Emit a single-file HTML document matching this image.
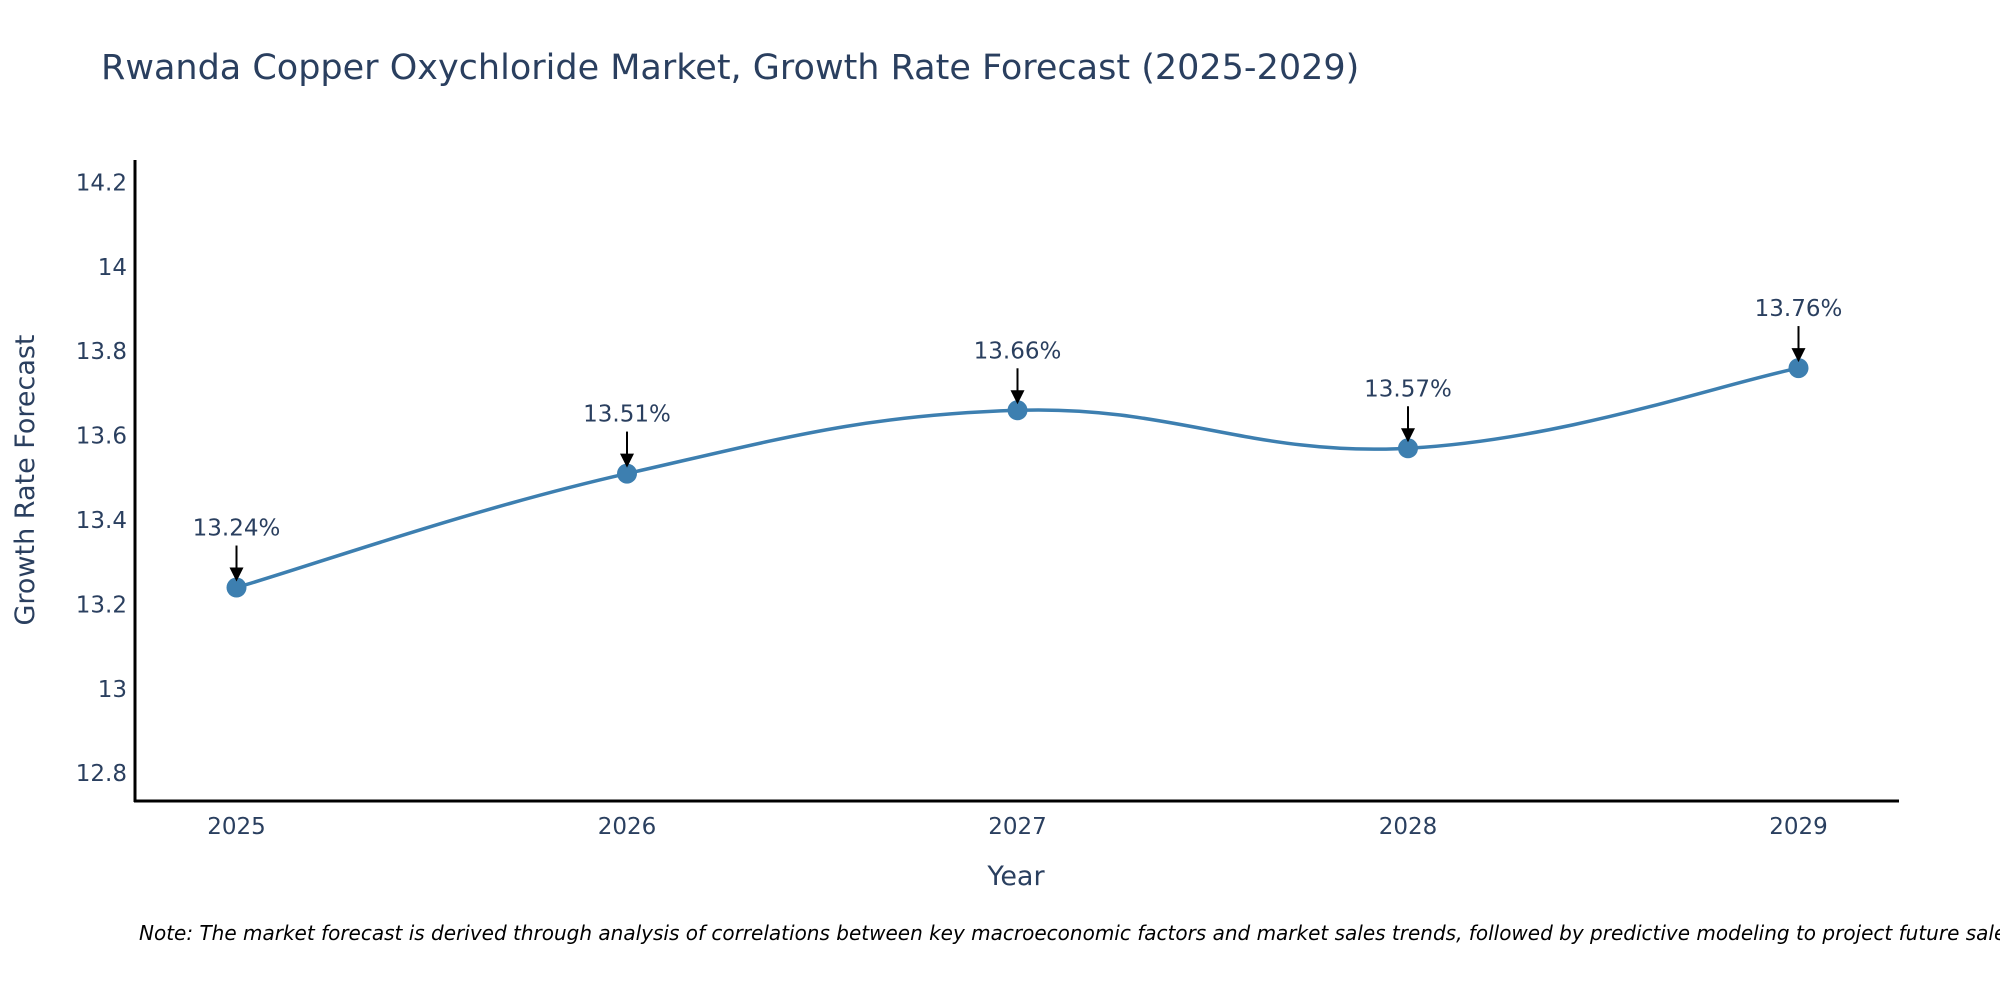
<!DOCTYPE html>
<html><head><meta charset="utf-8"><style>
body{margin:0;background:#fff;overflow:hidden;}
svg{font-family:"DejaVu Sans","Liberation Sans",sans-serif;}
</style></head><body>
<svg id="chart" width="2000" height="1000">
<text x="101" y="79" font-size="35" fill="#2a3f5f">Rwanda Copper Oxychloride Market, Growth Rate Forecast (2025-2029)</text>
<g id="yticks"></g>
<g id="xticks"></g>
<line x1="135" y1="160" x2="135" y2="802" stroke="#000" stroke-width="3"/>
<line x1="134" y1="801" x2="1899" y2="801" stroke="#000" stroke-width="3"/>
<text x="0" y="0" transform="translate(34,480) rotate(-90)" text-anchor="middle" font-size="27" fill="#2a3f5f">Growth Rate Forecast</text>
<text x="1016" y="885" text-anchor="middle" font-size="27" fill="#2a3f5f">Year</text>
<g id="series"></g>
<g id="annots"></g>
<text x="139" y="940" font-size="20" font-style="italic" fill="#000">Note: The market forecast is derived through analysis of correlations between key macroeconomic factors and market sales trends, followed by predictive modeling to project future sales.</text>
</svg>
<script>
const years = [2025, 2026, 2027, 2028, 2029];
const values = [13.24, 13.51, 13.66, 13.57, 13.76];
const yTicks = [12.8, 13, 13.2, 13.4, 13.6, 13.8, 14, 14.2];
const yTickLabels = ["12.8", "13", "13.2", "13.4", "13.6", "13.8", "14", "14.2"];
const NS = "http://www.w3.org/2000/svg";
function xs(v){return 236.5 + (v-2025)*(1798.5-236.5)/4;}
function ys(v){return 688.8 - (v-13)*(688.8-182.4)/1.2;}
function mk(tag, attrs, parent){const e=document.createElementNS(NS,tag);for(const k in attrs)e.setAttribute(k,attrs[k]);parent.appendChild(e);return e;}
const yg=document.getElementById('yticks');
yTicks.forEach((t,i)=>{
  const e=mk('text',{x:127,y:ys(t)+8,'text-anchor':'end','font-size':23,fill:'#2a3f5f'},yg);
  
  
  e.textContent=yTickLabels[i];
});
const xg=document.getElementById('xticks');
years.forEach(y=>{
  const e=mk('text',{x:xs(y),y:834,'text-anchor':'middle','font-size':23,fill:'#2a3f5f'},xg);
  
  
  e.textContent=String(y);
});
const pts=years.map((y,i)=>[xs(y),ys(values[i])]);
let d='M'+pts[0][0]+','+pts[0][1];
const s=1/5;
for(let i=0;i<pts.length-1;i++){
  const p0=pts[Math.max(0,i-1)],p1=pts[i],p2=pts[i+1],p3=pts[Math.min(pts.length-1,i+2)];
  const c1=[p1[0]+(p2[0]-p0[0])*s,p1[1]+(p2[1]-p0[1])*s];
  const c2=[p2[0]-(p3[0]-p1[0])*s,p2[1]-(p3[1]-p1[1])*s];
  d+=' C'+c1[0]+','+c1[1]+' '+c2[0]+','+c2[1]+' '+p2[0]+','+p2[1];
}
const sg=document.getElementById('series');
const line=mk('path',{d:d,fill:'none',stroke:'#3d7fb0','stroke-width':3.5},sg);


const ag=document.getElementById('annots');
pts.forEach((p,i)=>{
  const c=mk('circle',{cx:p[0],cy:p[1],r:10,fill:'#3d7fb0'},sg);
  
  
  const l=mk('line',{x1:p[0],y1:p[1]-42,x2:p[0],y2:p[1]-18,stroke:'#000','stroke-width':2},ag);
  
  
  const h=mk('polygon',{points:(p[0]-7)+','+(p[1]-20)+' '+(p[0]+7)+','+(p[1]-20)+' '+p[0]+','+(p[1]-6),fill:'#000'},ag);
  
  
  const t=mk('text',{x:p[0],y:p[1]-52,'text-anchor':'middle','font-size':23,fill:'#2a3f5f'},ag);
  
  
  t.textContent=values[i].toFixed(2)+'%';
});
</script>
</body></html>
